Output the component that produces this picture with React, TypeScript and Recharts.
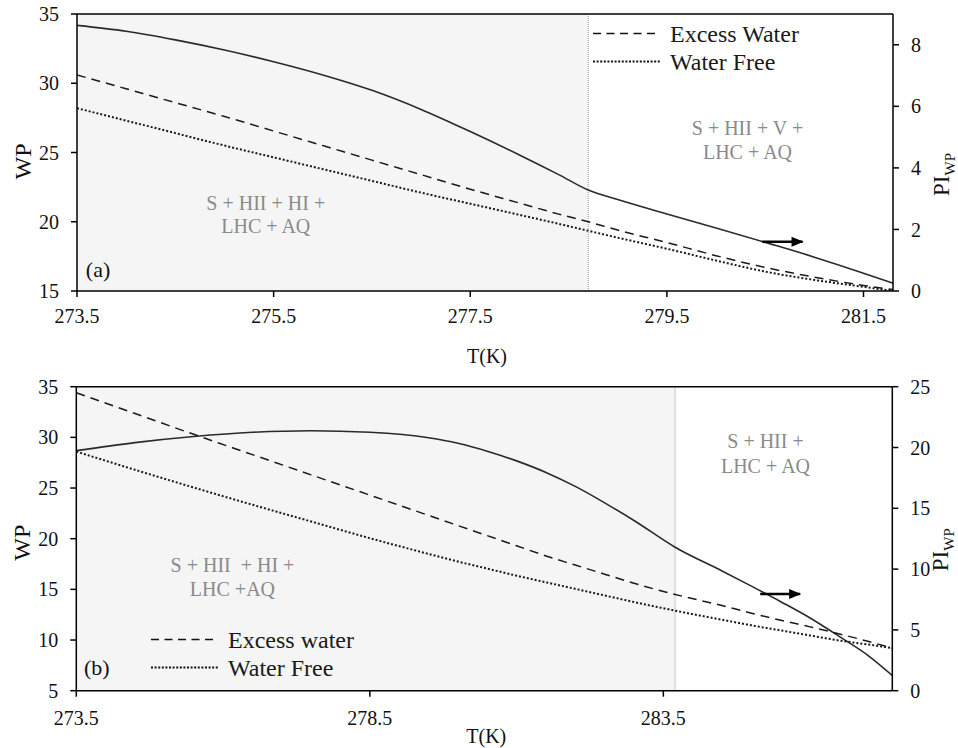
import {
  LineChart,
  Line,
  XAxis,
  YAxis,
  ReferenceArea,
  ReferenceLine,
  ReferenceDot,
  Legend,
} from 'recharts';

const FONT = "'Liberation Serif', Tinos, 'Times New Roman', 'DejaVu Serif', serif";

// panel (a)
const topTemps = [273.5, 274.0, 274.5, 275.0, 275.5, 276.0, 276.5, 277.0, 277.5, 278.0, 278.4, 278.7, 279.0, 279.5, 280.0, 280.5, 281.0, 281.5, 281.8];
const topPI = [8.63, 8.44, 8.16, 7.83, 7.45, 7.02, 6.52, 5.9, 5.18, 4.42, 3.78, 3.28, 2.97, 2.5, 2.05, 1.58, 1.1, 0.58, 0.25];
const topExcess = [30.6, 29.6, 28.6, 27.6, 26.55, 25.5, 24.45, 23.4, 22.35, 21.35, 20.55, 20.0, 19.4, 18.5, 17.55, 16.7, 16.0, 15.4, 15.1];
const topFree = [28.2, 27.3, 26.4, 25.5, 24.65, 23.8, 22.95, 22.1, 21.3, 20.5, 19.85, 19.35, 18.85, 18.05, 17.2, 16.4, 15.8, 15.3, 15.0];
const topXTicks = [273.5, 275.5, 277.5, 279.5, 281.5];
const topWPTicks = [15, 20, 25, 30, 35];
const topPITicks = [0, 2, 4, 6, 8];

// panel (b)
const bottomTemps = [273.5, 274.5, 275.5, 276.5, 277.5, 278.5, 279.5, 280.0, 280.5, 281.0, 281.5, 282.0, 282.5, 283.0, 283.7, 284.5, 285.0, 285.5, 286.0, 286.5, 287.0, 287.4];
const bottomPI = [19.74, 20.4, 20.9, 21.25, 21.38, 21.25, 20.8, 20.35, 19.7, 18.9, 17.95, 16.8, 15.45, 14.0, 11.8, 9.85, 8.6, 7.32, 5.98, 4.45, 2.85, 1.25];
const bottomExcess = [34.4, 32.35, 30.3, 28.3, 26.3, 24.3, 22.3, 21.3, 20.3, 19.3, 18.3, 17.4, 16.5, 15.6, 14.5, 13.4, 12.65, 11.95, 11.3, 10.6, 9.85, 9.2];
const bottomFree = [28.6, 26.8, 25.05, 23.35, 21.7, 20.05, 18.5, 17.75, 17.05, 16.35, 15.7, 15.05, 14.4, 13.75, 12.9, 12.0, 11.45, 10.95, 10.45, 9.95, 9.55, 9.2];
const bottomXTicks = [273.5, 278.5, 283.5];
const bottomWPTicks = [5, 10, 15, 20, 25, 30, 35];
const bottomPITicks = [0, 5, 10, 15, 20, 25];

const buildRows = (t: number[], pi: number[], ex: number[], fr: number[]) =>
  t.map((v, i) => ({ t: v, pi: pi[i], excess: ex[i], free: fr[i] }));

interface Note {
  x: number;
  y: number;
  lines: string[];
  gap: number;
}

interface PanelProps {
  rows: { t: number; pi: number; excess: number; free: number }[];
  height: number;
  margin: { top: number; right: number; bottom: number; left: number };
  xDomain: [number, number];
  xTicks: number[];
  xAxisHeight: number;
  tickMargin: number;
  titleDy: number;
  wpDomain: [number, number];
  wpTicks: number[];
  piDomain: [number, number];
  piTicks: number[];
  boundary: number;
  notes: Note[];
  tag: { x: number; y: number; text: string };
  arrow: { from: number; to: number; y: number };
  names: [string, string];
  legendPos: { left: number; top: number };
  wpTitleDy: number;
  piTitleDy: number;
}

const axisStroke = { stroke: '#000', strokeWidth: 1.5 };
const tickStyle = { fill: '#111', fontSize: 20, fontFamily: FONT, style: { fontFamily: FONT } };

const noteShape = (note: Note) => (p: any) => (
  <text
    x={p.cx}
    y={p.cy}
    textAnchor="middle"
    fill="#8a8a8a"
    fontSize={20}
    style={{ whiteSpace: 'pre', fontFamily: FONT }}
  >
    {note.lines.map((l, i) => (
      <tspan key={l} x={p.cx} dy={i === 0 ? 0 : note.gap}>
        {l}
      </tspan>
    ))}
  </text>
);

const legendStyles = [
  { dash: '8 5.5', width: 1.6, len: 62 },
  { dash: '2 1.6', width: 2, len: 67 },
];

const legendContent = (props: any) => {
  const items = (props.payload || []).filter((e: any) => e.type !== 'none');
  return (
    <svg width={260} height={62} style={{ overflow: 'visible' }}>
      {items.map((e: any, i: number) => {
        const y = 18.5 + i * 28;
        const s = legendStyles[i];
        return (
          <g key={e.value}>
            <line x1={3} x2={3 + s.len} y1={y} y2={y} stroke="#111" strokeWidth={s.width} strokeDasharray={s.dash} />
            <text x={80} y={y + 8} fontSize={24} style={{ fontFamily: FONT }} fill="#1a1a1a">
              {e.value}
            </text>
          </g>
        );
      })}
    </svg>
  );
};

const Panel = (p: PanelProps) => (
  <LineChart width={958} height={p.height} data={p.rows} margin={p.margin} style={{ fontFamily: FONT }}>
    <ReferenceArea
      x1={p.xDomain[0]}
      x2={p.boundary}
      y1={p.wpDomain[0]}
      y2={p.wpDomain[1]}
      yAxisId="left"
      fill="#f5f5f5"
      fillOpacity={1}
      stroke="none"
    />
    <ReferenceLine x={p.boundary} yAxisId="left" stroke="#9a9a9a" strokeWidth={1} strokeDasharray="1 1" />
    <ReferenceLine y={p.wpDomain[1]} yAxisId="left" stroke="#000" strokeWidth={1.5} />
    <XAxis
      type="number"
      dataKey="t"
      domain={p.xDomain}
      ticks={p.xTicks}
      interval={0}
      allowDataOverflow
      height={p.xAxisHeight}
      tickSize={6}
      tickMargin={p.tickMargin}
      axisLine={axisStroke}
      tickLine={axisStroke}
      tick={tickStyle}
      label={{
        content: (lp: any) => {
          const vb = lp.viewBox;
          return (
            <text x={vb.x + vb.width / 2 + 2} y={vb.y + p.titleDy} textAnchor="middle" fontSize={20} style={{ fontFamily: FONT }} fill="#111">
              T(K)
            </text>
          );
        },
      }}
    />
    <YAxis
      yAxisId="left"
      orientation="left"
      width={60}
      domain={p.wpDomain}
      ticks={p.wpTicks}
      interval={0}
      allowDataOverflow
      tickSize={6}
      tickMargin={12}
      axisLine={axisStroke}
      tickLine={axisStroke}
      tick={tickStyle}
      label={{
        content: (lp: any) => {
          const vb = lp.viewBox;
          const x = vb.x + 14;
          const y = vb.y + vb.height / 2 + p.wpTitleDy;
          return (
            <text transform={`translate(${x},${y}) rotate(-90)`} textAnchor="middle" fontSize={24} style={{ fontFamily: FONT }} fill="#111">
              WP
            </text>
          );
        },
      }}
    />
    <YAxis
      yAxisId="right"
      orientation="right"
      width={60}
      domain={p.piDomain}
      ticks={p.piTicks}
      interval={0}
      allowDataOverflow
      tickSize={6}
      tickMargin={12}
      axisLine={axisStroke}
      tickLine={axisStroke}
      tick={tickStyle}
      label={{
        content: (lp: any) => {
          const vb = lp.viewBox;
          const x = vb.x + 56;
          const y = vb.y + vb.height / 2 + p.piTitleDy;
          return (
            <text transform={`translate(${x},${y}) rotate(-90)`} textAnchor="middle" fontSize={23} style={{ fontFamily: FONT }} fill="#111">
              PI
              <tspan fontSize={15} dy={6}>
                WP
              </tspan>
            </text>
          );
        },
      }}
    />
    <Line
      yAxisId="right"
      type="monotone"
      dataKey="pi"
      name="PI"
      stroke="#2a2a2a"
      strokeWidth={1.6}
      dot={false}
      activeDot={false}
      legendType="none"
      isAnimationActive={false}
    />
    <Line
      yAxisId="left"
      type="monotone"
      dataKey="excess"
      name={p.names[0]}
      stroke="#1a1a1a"
      strokeWidth={1.5}
      strokeDasharray="9 6"
      dot={false}
      activeDot={false}
      isAnimationActive={false}
    />
    <Line
      yAxisId="left"
      type="monotone"
      dataKey="free"
      name={p.names[1]}
      stroke="#1a1a1a"
      strokeWidth={2}
      strokeDasharray="2 2"
      dot={false}
      activeDot={false}
      isAnimationActive={false}
    />
    {p.notes.map((n) => (
      <ReferenceDot key={n.lines[0]} x={n.x} y={n.y} yAxisId="left" r={0} shape={noteShape(n)} />
    ))}
    <ReferenceDot
      x={p.tag.x}
      y={p.tag.y}
      yAxisId="left"
      r={0}
      shape={(d: any) => (
        <text x={d.cx} y={d.cy} fontSize={22} style={{ fontFamily: FONT }} fill="#111">
          {p.tag.text}
        </text>
      )}
    />
    <ReferenceLine
      yAxisId="right"
      segment={[
        { x: p.arrow.from, y: p.arrow.y },
        { x: p.arrow.to, y: p.arrow.y },
      ]}
      stroke="#000"
      strokeWidth={2.5}
    />
    <ReferenceDot
      x={p.arrow.to}
      y={p.arrow.y}
      yAxisId="right"
      r={0}
      shape={(d: any) => (
        <polygon points={`${d.cx + 1},${d.cy} ${d.cx - 11},${d.cy - 5} ${d.cx - 11},${d.cy + 5}`} fill="#000" />
      )}
    />
    <Legend
      layout="horizontal"
      verticalAlign="middle"
      align="center"
      wrapperStyle={{ left: p.legendPos.left, top: p.legendPos.top, width: 260, height: 62 }}
      content={legendContent}
    />
  </LineChart>
);

const App = () => (
  <div
    style={{
      position: 'absolute',
      left: 0,
      top: 0,
      width: 958,
      height: 748,
      background: '#fff',
      fontFamily: FONT,
    }}
  >
    <div style={{ position: 'absolute', left: 0, top: 0 }}>
      <Panel
        rows={buildRows(topTemps, topPI, topExcess, topFree)}
        height={372}
        margin={{ top: 14, right: 5, bottom: 11, left: 17 }}
        xDomain={[273.5, 281.8]}
        xTicks={topXTicks}
        xAxisHeight={70}
        tickMargin={12}
        titleDy={72}
        wpDomain={[15, 35]}
        wpTicks={topWPTicks}
        piDomain={[0, 9]}
        piTicks={topPITicks}
        boundary={278.7}
        notes={[
          { x: 275.42, y: 20.85, lines: ['S + HII + HI +', 'LHC + AQ'], gap: 23 },
          { x: 280.32, y: 26.26, lines: ['S + HII + V +', 'LHC + AQ'], gap: 24 },
        ]}
        tag={{ x: 273.59, y: 16.03, text: '(a)' }}
        arrow={{ from: 280.47, to: 280.88, y: 1.6 }}
        names={['Excess Water', 'Water Free']}
        legendPos={{ left: 590, top: 15 }}
        wpTitleDy={9}
        piTitleDy={22}
      />
    </div>
    <div style={{ position: 'absolute', left: 0, top: 372 }}>
      <Panel
        rows={buildRows(bottomTemps, bottomPI, bottomExcess, bottomFree)}
        height={376}
        margin={{ top: 14.7, right: 5.7, bottom: 7.3, left: 16.3 }}
        xDomain={[273.5, 287.4]}
        xTicks={bottomXTicks}
        xAxisHeight={50}
        tickMargin={14}
        titleDy={52}
        wpDomain={[5, 35]}
        wpTicks={bottomWPTicks}
        piDomain={[0, 25]}
        piTicks={bottomPITicks}
        boundary={283.7}
        notes={[
          { x: 276.16, y: 16.74, lines: ['S + HII  + HI +', 'LHC +AQ'], gap: 24 },
          { x: 285.24, y: 28.92, lines: ['S + HII +', 'LHC + AQ'], gap: 25 },
        ]}
        tag={{ x: 273.63, y: 6.54, text: '(b)' }}
        arrow={{ from: 285.15, to: 285.83, y: 7.95 }}
        names={['Excess water', 'Water Free']}
        legendPos={{ left: 148, top: 249 }}
        wpTitleDy={4}
        piTitleDy={11}
      />
    </div>
  </div>
);

export default App;
